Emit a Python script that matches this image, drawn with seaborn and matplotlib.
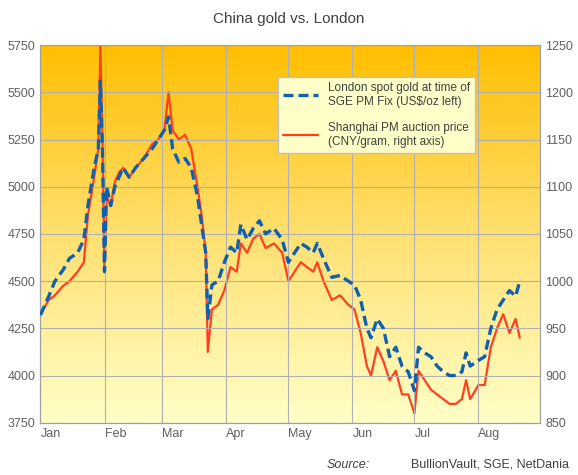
import numpy as np
import pandas as pd
import matplotlib.pyplot as plt
import matplotlib.dates as mdates
import seaborn as sns
from matplotlib.colors import LinearSegmentedColormap
from matplotlib.lines import Line2D

days = ["01-01","01-05","01-08","01-12","01-15","01-19","01-22","01-24","01-27","01-29","01-30","01-31",
        "02-01","02-02","02-04","02-06","02-08","02-10","02-13","02-16","02-20","02-24","02-27",
        "03-02","03-04","03-06","03-09","03-12","03-15","03-18","03-20","03-22","03-23","03-25","03-28","03-31",
        "04-03","04-06","04-08","04-11","04-14","04-17","04-20","04-24","04-28",
        "05-01","05-04","05-07","05-10","05-13","05-15","05-18","05-22","05-26","05-30",
        "06-02","06-05","06-08","06-10","06-13","06-16","06-19","06-22","06-25","06-28",
        "07-01","07-03","07-06","07-09","07-12","07-15","07-18","07-21","07-24","07-26","07-28",
        "08-01","08-04","08-07","08-10","08-13","08-16","08-19","08-21"]

london = [4320,4420,4500,4560,4620,4650,4720,4900,5100,5200,5560,5200,
          4550,5000,4900,5000,5050,5100,5050,5100,5150,5200,5250,
          5300,5370,5200,5130,5150,5100,4950,4800,4650,4300,4480,4500,4600,
          4680,4650,4800,4720,4780,4820,4750,4780,4720,
          4600,4650,4700,4680,4650,4700,4620,4520,4530,4500,
          4480,4400,4250,4200,4300,4250,4100,4150,4050,4020,
          3920,4150,4120,4100,4050,4020,4000,4000,4020,4120,4050,
          4080,4100,4250,4350,4400,4450,4420,4500]

shanghai = [965,980,985,995,1000,1010,1020,1070,1110,1140,1250,1150,
            1010,1090,1080,1105,1115,1120,1110,1120,1130,1145,1150,
            1160,1200,1160,1150,1155,1140,1100,1070,1030,925,970,975,990,
            1015,1010,1040,1030,1045,1050,1035,1040,1030,
            1000,1010,1020,1015,1010,1020,1000,980,985,975,
            970,945,910,900,930,915,895,905,880,880,
            860,905,895,885,880,875,870,870,875,895,875,
            890,890,930,950,965,945,960,940]

df = pd.DataFrame({"date": pd.to_datetime(["2018-" + d for d in days]),
                   "london": london, "shanghai": shanghai})

sns.set_style("white")
plt.rcParams['font.family'] = ['Liberation Sans', 'DejaVu Sans']
fig, ax = plt.subplots(figsize=(5.78, 4.75), dpi=100)
fig.subplots_adjust(left=0.07, right=0.935, top=0.905, bottom=0.11)

x0 = mdates.date2num(pd.Timestamp("2018-01-01"))
x1 = mdates.date2num(pd.Timestamp("2018-08-31"))

ax2 = ax.twinx()
ax2.set_xlim(x0, x1)
ax2.set_ylim(850, 1250)
ax.set_zorder(ax2.get_zorder() + 1)
ax.patch.set_visible(False)

# gradient background on the lower (right-axis) axes
grad = np.linspace(0, 1, 256).reshape(-1, 1)
cm = LinearSegmentedColormap.from_list("bg", ["#FFFFC8", "#FFE070", "#FFBE00"])
ax2.imshow(grad, aspect="auto", cmap=cm, origin="lower",
           extent=[x0, x1, 850, 1250], zorder=0)

sns.lineplot(data=df, x="date", y="shanghai", ax=ax2, color="#FF4020", lw=1.6, zorder=3)
sns.lineplot(data=df, x="date", y="london", ax=ax, color="#1060B0", lw=2.4,
             linestyle=(0, (3, 1.5)), zorder=4)
ax.set_xlim(x0, x1)
ax2.set_xlim(x0, x1)
ax.set_ylim(3750, 5750)
ax2.set_ylim(850, 1250)

ax.set_yticks(np.arange(3750, 5751, 250))
ax2.set_yticks(np.arange(850, 1251, 50))
ax.xaxis.set_major_locator(mdates.MonthLocator())
ax.xaxis.set_major_formatter(mdates.DateFormatter("%b"))
ax.grid(True, color="#B0B0B0", lw=0.8, zorder=1)
ax.set_axisbelow(True)
for a in (ax, ax2):
    a.set_xlabel("")
    a.set_ylabel("")
    a.tick_params(colors="#606060", labelsize=9, length=0)
    for s in a.spines.values():
        s.set_color("#A0A0A0")
for lbl in ax.get_xticklabels():
    lbl.set_horizontalalignment("left")

handles = [Line2D([], [], color="#1060B0", lw=2.4, linestyle=(0, (3, 1.5))),
           Line2D([], [], color="#FF4020", lw=1.6)]
leg = ax.legend(handles, ["London spot gold at time of\nSGE PM Fix (US$/oz left)",
                          "Shanghai PM auction price\n(CNY/gram, right axis)"],
                loc="upper right", bbox_to_anchor=(0.88, 0.93), fontsize=8.5,
                frameon=True, fancybox=False, facecolor="#FFFFC8", edgecolor="#C0C0C0",
                framealpha=1, labelspacing=1.2, handlelength=3)
for t in leg.get_texts():
    t.set_color("#404040")

fig.suptitle("China gold vs. London", fontsize=11, color="#404040", y=0.975)
fig.text(0.985, 0.015, "BullionVault, SGE, NetDania", ha="right", fontsize=9, color="#404040")
fig.text(0.64, 0.015, "Source:", ha="right", fontsize=9, color="#404040", style="italic")

fig.savefig("out.png", dpi=100)
